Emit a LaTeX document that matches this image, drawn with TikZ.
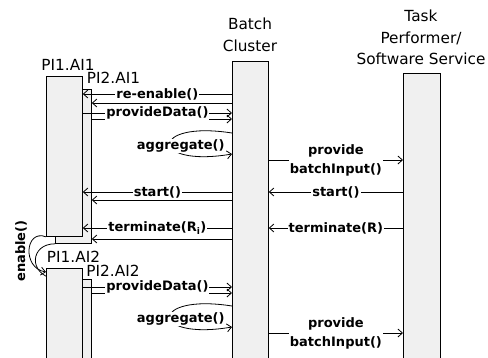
\documentclass[tikz,border=0pt]{standalone}
\usepackage{fontspec}
\setmainfont{DejaVu Sans}
\usetikzlibrary{arrows.meta}
\definecolor{barfill}{HTML}{F0F0F0}

\begin{document}
\begin{tikzpicture}[x=1pt, y=-1pt, line width=0.8pt, bar/.style = {rectangle, draw=black, fill=barfill, minimum width=36, inner sep=0, anchor=north west}, hd/.style = {align=center, inner sep=0, font=\fontsize{15.3}{21.5}\selectfont}, lbl/.style = {fill=white, inner sep=1pt, align=center, font=\bfseries\fontsize{13}{19}\selectfont}, msg/.style = {-{Straight Barb[length=4.5pt, width=8pt]}}]
        \useasboundingbox (0, 0) rectangle (488, 357);
        \clip (0, 0) rectangle (488, 357);

        % message rows
        \coordinate (m1) at (0, 94);
        \coordinate (m2) at (0, 103);
        \coordinate (m3) at (0, 113);
        \coordinate (m4) at (0, 119);
        \coordinate (a1) at (0, 133);
        \coordinate (a2) at (0, 154);
        \coordinate (m5) at (0, 160);
        \coordinate (m6) at (0, 192);
        \coordinate (m8) at (0, 200);
        \coordinate (m9) at (0, 228);
        \coordinate (m11) at (0, 239);
        \coordinate (e1) at (0, 272);
        \coordinate (m12) at (0, 287);
        \coordinate (m13) at (0, 293);
        \coordinate (a3) at (0, 306);
        \coordinate (a4) at (0, 327);
        \coordinate (m14) at (0, 333);

        % lifelines
        \draw (55, 89) node[bar, minimum height=154] (p2a) {};
        \draw (46, 76) node[bar, minimum height=160] (p1a) {};
        \draw (232, 61) node[bar, minimum height=300] (bc) {};
        \draw (403, 73) node[bar, minimum width=37, minimum height=290] (tp) {};

        \draw (68, 64.5) node[hd] (h1a) {PI1.AI1};
        \draw (113.5, 77.5) node[hd] (h2a) {PI2.AI1};
        \draw (250, 35) node[hd] (hbc) {Batch\\Cluster};
        \draw (421, 37.5) node[hd] (htp) {Task\\Performer/\\Software Service};

        % first batch
        \draw[msg] (bc.west |- m2) -- (p2a.east |- m2);
        \draw[msg] (bc.west |- m1) -- node[lbl] {re-enable()} (p1a.east |- m1);
        \draw[msg] (p2a.east |- m4) -- (bc.west |- m4);
        \draw[msg] (p1a.east |- m3) -- node[lbl] {provideData()} (bc.west |- m3);
        \draw[msg] (bc.west |- a1) .. controls +(-83, -13) and +(-83, 14) .. (bc.west |- a2) node[lbl, pos=0.5, xshift=11, yshift=-2] (ag1) {aggregate()};
        \draw[msg] (bc.east |- m5) -- node[lbl] {provide\\batchInput()} (tp.west |- m5);
        \draw[msg] (tp.west |- m6) -- node[lbl] {start()} (bc.east |- m6);
        \draw[msg] (bc.west |- m8) -- (p2a.east |- m8);
        \draw[msg] (bc.west |- m6) -- node[lbl] {start()} (p1a.east |- m6);
        \draw[msg] (tp.west |- m9) -- node[lbl] {terminate(R)} (bc.east |- m9);
        \draw[msg] (bc.west |- m11) -- (p2a.east |- m11);
        \draw[msg] (bc.west |- m9) -- node[lbl] {terminate(R\textsubscript{i})} (p1a.east |- m9);

        % second batch
        \draw (55, 279) node[bar, minimum height=90] (p2b) {};
        \draw[msg] (p2a.south west) .. controls +(-25, 0) and +(-27, -5) .. (p2b.north west);
        \draw (46, 268) node[bar, minimum height=100] (p1b) {};
        \draw[msg] (p1a.south west) .. controls +(-21, -8) and +(-24, -4) .. (p1b.west |- e1);
        \draw (21, 251) node[lbl, fill=none, rotate=90] (en) {enable()};

        \draw (73.5, 256.5) node[hd] (h1b) {PI1.AI2};
        \draw (113, 270.5) node[hd] (h2b) {PI2.AI2};

        \draw[msg] (p2b.east |- m13) -- (bc.west |- m13);
        \draw[msg] (p1b.east |- m12) -- node[lbl] {provideData()} (bc.west |- m12);
        \draw[msg] (bc.west |- a3) .. controls +(-83, -13) and +(-83, 14) .. (bc.west |- a4) node[lbl, pos=0.5, xshift=11, yshift=-2] (ag2) {aggregate()};
        \draw[msg] (bc.east |- m14) -- node[lbl] {provide\\batchInput()} (tp.west |- m14);
\end{tikzpicture}
\end{document}
